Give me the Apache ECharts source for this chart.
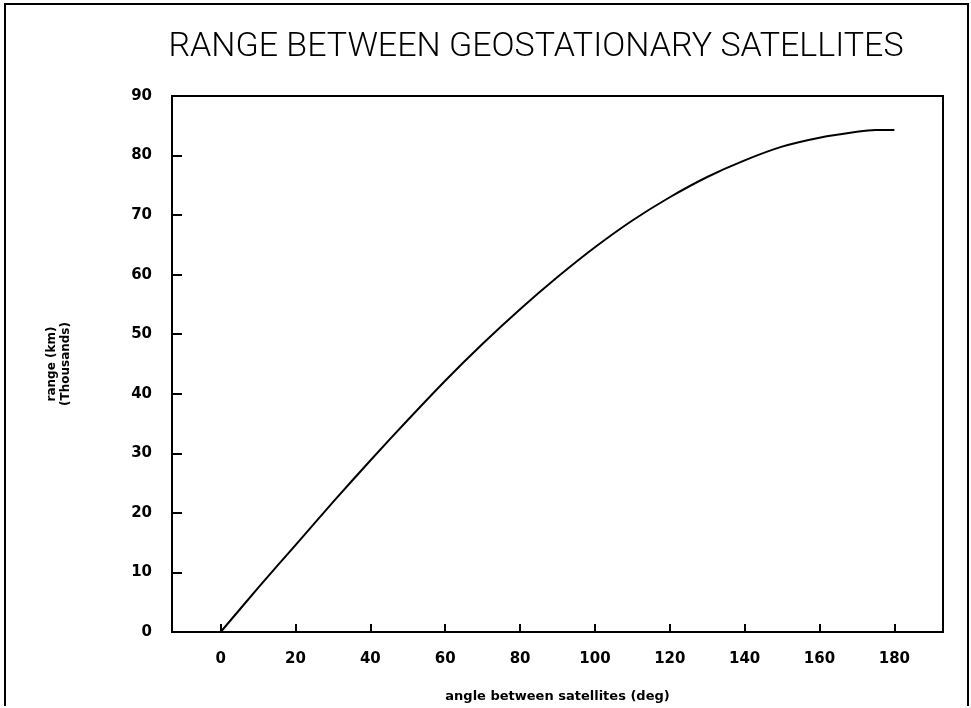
<!DOCTYPE html>
<html>
<head>
<meta charset="utf-8">
<script src="https://cdn.jsdelivr.net/npm/echarts@6/dist/echarts.min.js"></script>
<style>
  html, body { margin: 0; padding: 0; background: #fff; }
  #chart { width: 971px; height: 708px; }
</style>
</head>
<body>
<div id="chart"></div>
<script>
// Angle between the two satellites (degrees)
const angles = [0, 10, 20, 30, 40, 50, 60, 70, 80, 90, 100, 110, 120, 130, 140, 150, 160, 170, 175, 180];
// Straight-line range between them (thousands of km)
const ranges = [0, 7.4, 14.6, 21.8, 28.8, 35.6, 42.2, 48.4, 54.2, 59.6, 64.6, 69.1, 73.0, 76.4, 79.2, 81.5, 83.0, 84.0, 84.3, 84.3];
// Tick values shown on the axes
const xTicks = [0, 20, 40, 60, 80, 100, 120, 140, 160, 180];
const yTicks = [0, 10, 20, 30, 40, 50, 60, 70, 80, 90];

const chart = echarts.init(document.getElementById('chart'), null, { renderer: 'canvas' });

const labelFont = { color: '#000', fontFamily: 'DejaVu Sans', fontWeight: 'bold', fontSize: 15 };

chart.setOption({
  backgroundColor: '#fff',
  animation: false,
  title: {
    text: 'RANGE BETWEEN GEOSTATIONARY SATELLITES',
    left: 531, top: 25, textAlign: 'center',
    textStyle: { color: '#000', fontFamily: 'Roboto', fontWeight: 300, fontSize: 34 }
  },
  grid: { left: 172, top: 96, right: 28, bottom: 75, show: true, borderColor: '#000', borderWidth: 2 },
  xAxis: {
    type: 'value', min: -13, max: 193,
    axisLine: { show: true, onZero: false, lineStyle: { color: '#000', width: 2 } },
    axisTick: { show: true, inside: true, length: 8, customValues: xTicks, lineStyle: { color: '#000', width: 2 } },
    axisLabel: Object.assign({ customValues: xTicks, margin: 20 }, labelFont),
    splitLine: { show: false },
    name: 'angle between satellites (deg)',
    nameLocation: 'middle', nameGap: 58,
    nameTextStyle: { color: '#000', fontFamily: 'DejaVu Sans', fontWeight: 'bold', fontSize: 13 }
  },
  yAxis: {
    type: 'value', min: 0, max: 90, interval: 10,
    axisLine: { show: true, onZero: false, lineStyle: { color: '#000', width: 2 } },
    axisTick: { show: true, inside: true, length: 10, customValues: [10, 20, 30, 40, 50, 60, 70, 80], lineStyle: { color: '#000', width: 2 } },
    axisLabel: Object.assign({ customValues: yTicks, margin: 20 }, labelFont),
    splitLine: { show: false },
    name: 'range (km)\n(Thousands)',
    nameLocation: 'middle', nameGap: 99, nameRotate: 90,
    nameTextStyle: { color: '#000', fontFamily: 'DejaVu Sans', fontWeight: 'bold', fontSize: 12, lineHeight: 14, align: 'center' }
  },
  series: [{
    type: 'line',
    data: angles.map((a, i) => [a, ranges[i]]),
    smooth: 0.3,
    showSymbol: false,
    lineStyle: { color: '#000', width: 2 }
  }],
  graphic: [{
    type: 'polyline',
    shape: { points: [[5, 706], [5, 4], [968, 4], [968, 706]] },
    style: { stroke: '#000', lineWidth: 2, fill: null }
  }]
});
</script>
</body>
</html>
